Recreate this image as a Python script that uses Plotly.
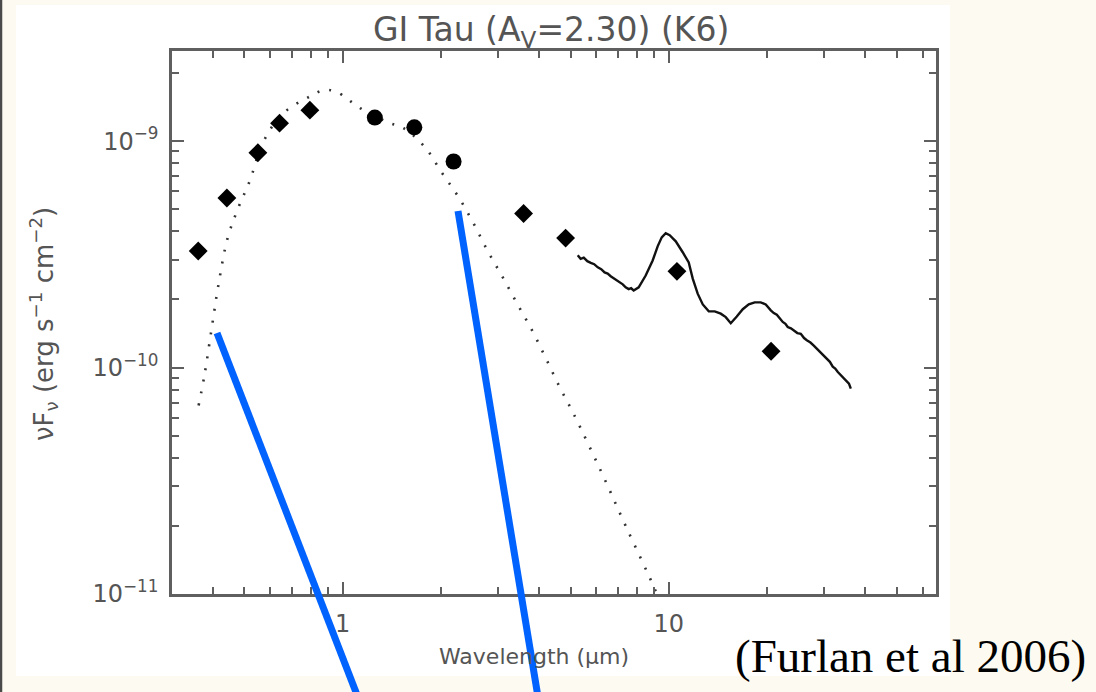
import math
import plotly.graph_objects as go

# ---------------- data ----------------
# photometry (diamonds)
phot_diam_wl = [0.361, 0.442, 0.550, 0.641, 0.794, 3.59, 4.83, 10.6, 20.6]
phot_diam_f = [3.27e-10, 5.61e-10, 8.88e-10, 1.20e-9, 1.37e-9, 4.79e-10, 3.73e-10, 2.66e-10, 1.18e-10]
# photometry (circles, 2MASS)
phot_circ_wl = [1.256, 1.66, 2.19]
phot_circ_f = [1.27e-9, 1.15e-9, 8.13e-10]

# photosphere model (dotted)
model_wl = [0.362, 0.377, 0.397, 0.417, 0.444, 0.477, 0.519, 0.573, 0.659, 0.798,
            0.875, 0.958, 1.14, 1.38, 1.54, 1.79, 2.01, 2.27, 2.52, 2.79,
            3.10, 3.44, 3.83, 4.20, 4.63, 5.11, 6.19, 7.38, 9.12, 9.6]
model_f = [6.8e-11, 9.2e-11, 1.49e-10, 2.35e-10, 3.72e-10, 5.0e-10, 6.65e-10, 1.0e-9, 1.33e-9, 1.58e-9,
           1.68e-9, 1.65e-9, 1.39e-9, 1.21e-9, 1.14e-9, 9.4e-10, 7.3e-10, 5.65e-10, 4.34e-10, 3.26e-10,
           2.50e-10, 1.90e-10, 1.44e-10, 1.10e-10, 8.2e-11, 6.25e-11, 3.5e-11, 2.0e-11, 1.03e-11, 8.5e-12]

# IRS spectrum (solid)
irs_wl = [5.26, 5.37, 5.49, 5.63, 5.77, 5.91, 6.06, 6.21, 6.36, 6.50,
          6.64, 6.81, 6.98, 7.10, 7.23, 7.38, 7.54, 7.67, 7.81,
          8.09, 8.50, 8.93, 9.25, 9.52, 9.79, 10.07, 10.51, 11.04, 11.52,
          11.85, 12.27, 12.72, 13.27, 13.84, 14.44, 14.96, 15.50, 16.17, 16.87,
          17.60, 18.35, 19.15, 19.84, 20.56, 21.0, 21.45, 21.9, 22.37, 22.8,
          23.17, 23.7, 24.17, 24.8, 25.41, 26.0, 26.51, 27.2, 27.85, 28.5,
          29.26, 29.9, 30.52, 31.2, 31.84, 32.4, 33.0, 33.6, 34.18, 34.7,
          35.16, 35.7, 36.17]
irs_f = [3.13e-10, 3.02e-10, 3.06e-10, 2.95e-10, 2.90e-10, 2.86e-10, 2.77e-10, 2.72e-10, 2.63e-10, 2.60e-10,
         2.53e-10, 2.47e-10, 2.41e-10, 2.38e-10, 2.33e-10, 2.26e-10, 2.22e-10, 2.24e-10, 2.19e-10,
         2.26e-10, 2.55e-10, 2.97e-10, 3.43e-10, 3.76e-10, 3.92e-10, 3.84e-10, 3.61e-10, 3.23e-10, 2.91e-10,
         2.47e-10, 2.12e-10, 1.90e-10, 1.77e-10, 1.77e-10, 1.73e-10, 1.67e-10, 1.57e-10, 1.68e-10, 1.81e-10,
         1.90e-10, 1.94e-10, 1.94e-10, 1.90e-10, 1.79e-10, 1.74e-10, 1.71e-10, 1.64e-10, 1.59e-10, 1.56e-10,
         1.51e-10, 1.49e-10, 1.46e-10, 1.42e-10, 1.41e-10, 1.35e-10, 1.32e-10, 1.29e-10, 1.25e-10, 1.21e-10,
         1.16e-10, 1.13e-10, 1.09e-10, 1.06e-10, 1.01e-10, 9.9e-11, 9.55e-11, 9.3e-11, 9.05e-11, 8.9e-11,
         8.75e-11, 8.5e-11, 8.07e-11]

x_major = [1, 10]
x_major_text = ["1", "10"]
x_minor = [0.3, 0.4, 0.5, 0.6, 0.7, 0.8, 0.9, 2, 3, 4, 5, 6, 7, 8, 9, 20, 30, 40, 50, 60]
y_major = [1e-11, 1e-10, 1e-9]
y_major_text = ["10<sup>\u221211</sup>", "10<sup>\u221210</sup>", "10<sup>\u22129</sup>"]
y_minor = [k * 1e-11 for k in range(2, 10)] + [k * 1e-10 for k in range(2, 10)] + [2e-9]

title_text = "GI Tau (A<sub>V</sub>=2.30) (K6)"
xlabel_text = "Wavelength (\u03bcm)"
ylabel_text = "\u03bdF<sub>\u03bd</sub> (erg s<sup>\u22121</sup> cm<sup>\u22122</sup>)"
credit_text = "(Furlan et al 2006)"

# ---------------- figure ----------------
W, H = 1096, 692
L, R, T, B = 172, 160, 51, 98
pw, ph = W - L - R, H - T - B


def px(xp):
    return (xp - L) / pw


def py(yp):
    return (H - B - yp) / ph


GRAY = "#555555"
AX = "#5f5f5f"
FONT = "DejaVu Sans"

fig = go.Figure()

fig.add_trace(go.Scatter(x=model_wl, y=model_f, mode="lines",
                         line=dict(color="#333333", width=2.6, dash="2px,10px", shape="spline"),
                         hoverinfo="skip", showlegend=False))
fig.add_trace(go.Scatter(x=irs_wl, y=irs_f, mode="lines",
                         line=dict(color="#111111", width=2.4),
                         showlegend=False))
fig.add_trace(go.Scatter(x=phot_diam_wl, y=phot_diam_f, mode="markers",
                         marker=dict(symbol="diamond", size=14.5, color="black", line=dict(width=0)),
                         showlegend=False))
fig.add_trace(go.Scatter(x=phot_circ_wl, y=phot_circ_f, mode="markers",
                         marker=dict(symbol="circle", size=16, color="black", line=dict(width=0)),
                         showlegend=False))

axis_common = dict(
    type="log", ticks="inside", ticklen=12, tickwidth=2, tickcolor=AX,
    showline=True, linecolor=AX, linewidth=2.5, mirror="allticks",
    showgrid=False, zeroline=False,
    tickfont=dict(family=FONT, size=24, color=GRAY),
)

fig.update_xaxes(**axis_common, range=[math.log10(0.3), math.log10(66)],
                 tickmode="array", tickvals=x_major, ticktext=x_major_text,
                 minor=dict(tickmode="array", tickvals=x_minor, ticks="inside", ticklen=7,
                            tickwidth=1.8, tickcolor=AX, showgrid=False),
                 ticklabelstandoff=6)
fig.update_yaxes(**axis_common, range=[-11, math.log10(2.5e-9)],
                 tickmode="array", tickvals=y_major, ticktext=y_major_text,
                 minor=dict(tickmode="array", tickvals=y_minor, ticks="inside", ticklen=7,
                            tickwidth=1.8, tickcolor=AX, showgrid=False),
                 ticklabelstandoff=6)

shapes = [
    # white slide panel
    dict(type="rect", xref="paper", yref="paper", x0=px(16), x1=px(950), y0=py(676), y1=py(5),
         fillcolor="white", line=dict(width=0), layer="below"),
    # left border line
    dict(type="line", xref="paper", yref="paper", x0=px(1), x1=px(1), y0=py(H), y1=py(0),
         line=dict(color="#4a4a4a", width=2.5)),
    # blue pointer lines
    dict(type="line", xref="paper", yref="paper", x0=px(217), y0=py(333), x1=px(359), y1=py(700),
         line=dict(color="#0062FF", width=7), layer="above"),
    dict(type="line", xref="paper", yref="paper", x0=px(458), y0=py(211), x1=px(538.5), y1=py(700),
         line=dict(color="#0062FF", width=7), layer="above"),
]

annotations = [
    dict(text=title_text, xref="paper", yref="paper", x=px(551), y=py(31), xanchor="center",
         yanchor="middle", showarrow=False, font=dict(family=FONT, size=33, color=GRAY)),
    dict(text=xlabel_text, xref="paper", yref="paper", x=px(534), y=py(656), xanchor="center",
         yanchor="middle", showarrow=False, font=dict(family=FONT, size=22, color=GRAY)),
    dict(text=ylabel_text, xref="paper", yref="paper", x=px(44), y=py(324), xanchor="center",
         yanchor="middle", showarrow=False, textangle=-90, font=dict(family=FONT, size=26, color=GRAY)),
    dict(text=credit_text, xref="paper", yref="paper", x=px(733), y=py(656), xanchor="left",
         yanchor="middle", showarrow=False, font=dict(family="Liberation Serif", size=47, color="black")),
]

fig.update_layout(
    width=W, height=H,
    margin=dict(l=L, r=R, t=T, b=B, pad=0),
    paper_bgcolor="#FDFAF1", plot_bgcolor="white",
    shapes=shapes, annotations=annotations, showlegend=False,
)

fig.write_html("out.html")
